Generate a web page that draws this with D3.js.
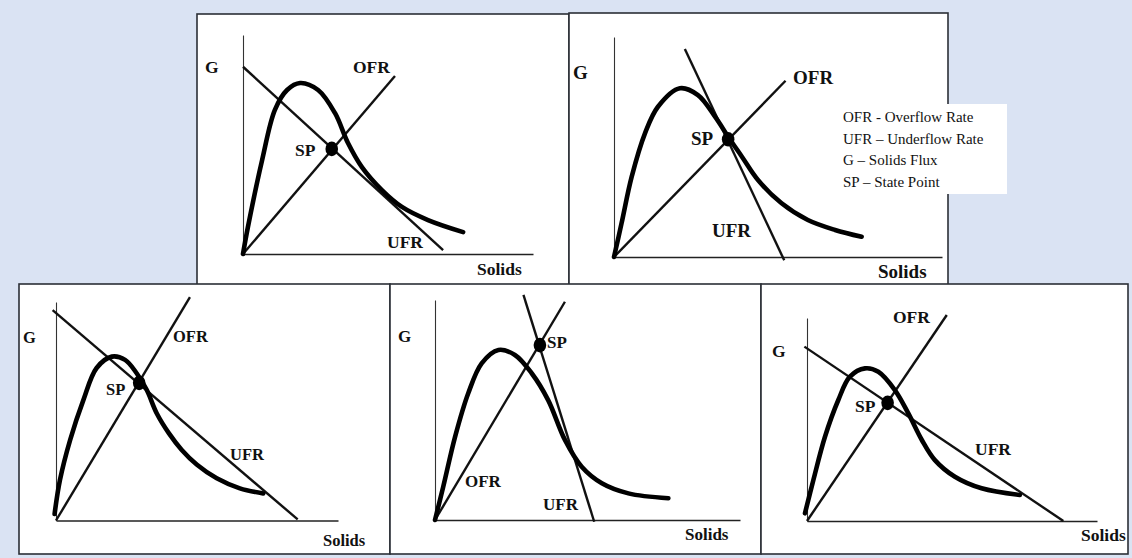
<!DOCTYPE html>
<html>
<head>
<meta charset="utf-8">
<script src="https://cdn.jsdelivr.net/npm/d3@7"></script>
<style>
  body { margin: 0; background: #dae3f3; }
  svg { display: block; }
</style>
</head>
<body>
<div id="chart"></div>
<script>
// solids flux curves: [solids, G], both as % of the axis length
var fluxA = [[0,0],[1.7,12.3],[6.6,42.9],[11,65.8],[15.2,74.9],[19.7,78.1],[25.9,74.9],[31.7,64.4],[36.2,50.7],[41,39.7],[47.9,29.2],[54.8,21.5],[63.8,15.5],[75.9,10]];
var fluxB = [[0,0],[2.3,15.3],[5.4,36.5],[9.5,56.4],[13.4,68.3],[20.1,76.7],[25.6,73.6],[30.8,63.8],[34.8,54.7],[39,45.6],[43.9,35],[51.1,24.4],[59.1,16.8],[67.4,12.3],[75.5,9.2]];
var fluxC = [[-0.5,3],[1.4,18.5],[5,36.8],[9.7,55.1],[14.4,69.8],[19.8,75],[24.5,73.5],[28.6,67.4],[32.2,59.7],[35.7,49.1],[40,40],[44.6,32.3],[50,25.5],[57,19.3],[65.2,14.7],[73.5,12.4]];
var fluxD = [[0,0],[2.7,15.1],[6.6,37.9],[10.9,57.6],[15.3,71.2],[20.8,77.3],[26.2,75],[31.7,66.7],[37.1,54.5],[42.6,36.4],[48.1,24.2],[54.7,16.7],[63.4,12.1],[76.5,9.9]];
var fluxE = [[-0.7,3.8],[2.2,20.2],[6.2,41.5],[10.8,59.6],[14.8,71.1],[20,75.2],[24.6,73.5],[30.3,64.5],[34.9,53.1],[39.6,39.9],[44.1,30],[51,21.8],[60.2,16.1],[73.4,12.8]];

// overflow rate lines (from origin), underflow rate lines, state points
var ofrA = [[0,0],[52.4,81.3]], ufrA = [[0,85.5],[69,1.8]], spA = [30.6,48];
var ofrB = [[0,0],[52.3,80.1]], ufrB = [[21.6,94.5],[51.9,-1.5]], spB = [34.8,53.5];
var ofrC = [[0,0],[47.5,102.2]], ufrC = [[-1.2,96.3],[85.7,0.5]], spC = [29.5,63];
var ofrD = [[0,0],[42.6,99.2]], ufrD = [[29,102.3],[52.2,-0.8]], spD = [34.4,79.5];
var ofrE = [[0,0],[48.2,101.5]], ufrE = [[-0.9,85.9],[88.4,0]], spE = [27.8,58.2];

var legendLines = ["OFR - Overflow Rate", "UFR \u2013 Underflow Rate", "G \u2013 Solids Flux", "SP \u2013 State Point"];

var panels = [
  {curve: fluxA, ofr: ofrA, ufr: ufrA, sp: spA, box: [197,14,569,292], origin: [243,254], xEnd: 533, yTop: 35, font: 17.5,
   labels: {G: [205,73], OFR: [353,73], SP: [295,156], UFR: [387,248], Solids: [477,275]}},
  {curve: fluxB, ofr: ofrB, ufr: ufrB, sp: spB, box: [569,13,948,292], origin: [614,257], xEnd: 942, yTop: 37, font: 19,
   labels: {G: [573,79], OFR: [793,84], SP: [691,145], UFR: [712,237], Solids: [878,278]}},
  {curve: fluxC, ofr: ofrC, ufr: ufrC, sp: spC, box: [19,284,390,554], origin: [56,520.5], xEnd: 338, yTop: 302, font: 16.5,
   labels: {G: [23,343], OFR: [173,342], SP: [106,395], UFR: [230,460], Solids: [323,546]}},
  {curve: fluxD, ofr: ofrD, ufr: ufrD, sp: spD, box: [390,284,761,554], origin: [435,520], xEnd: 740, yTop: 300, font: 17,
   labels: {G: [398,342], SP: [547,348], OFR: [465,487], UFR: [543,510], Solids: [685,540]}},
  {curve: fluxE, ofr: ofrE, ufr: ufrE, sp: spE, box: [761,284,1128,554], origin: [807,521], xEnd: 1097, yTop: 318, font: 17.5,
   labels: {G: [772,357], OFR: [893,323], SP: [855,412], UFR: [975,455], Solids: [1081,541]}}
];

var svg = d3.select("#chart").append("svg")
  .attr("width", 1132)
  .attr("height", 558);

svg.append("rect")
  .attr("width", 1132).attr("height", 558)
  .attr("fill", "#dae3f3");

panels.forEach(function(p, i) {
  var g = svg.append("g");

  g.append("rect")
    .attr("x", p.box[0]).attr("y", p.box[1])
    .attr("width", p.box[2] - p.box[0]).attr("height", p.box[3] - p.box[1])
    .attr("fill", "#fff")
    .attr("stroke", "#2b2f36")
    .attr("stroke-width", 1.6);

  var x = d3.scaleLinear().domain([0, 100]).range([p.origin[0], p.xEnd]);
  var y = d3.scaleLinear().domain([0, 100]).range([p.origin[1], p.yTop]);

  // bare axes, no ticks
  g.append("g")
    .attr("transform", "translate(0," + p.origin[1] + ")")
    .call(d3.axisBottom(x).ticks(0).tickSize(0))
    .call(function(a) { a.select(".domain").attr("stroke", "#222").attr("stroke-width", 1.4); });
  g.append("g")
    .attr("transform", "translate(" + p.origin[0] + ",0)")
    .call(d3.axisLeft(y).ticks(0).tickSize(0))
    .call(function(a) { a.select(".domain").attr("stroke", "#333").attr("stroke-width", 1.1); });

  var line = d3.line()
    .x(function(d) { return x(d[0]); })
    .y(function(d) { return y(d[1]); });

  g.append("path")
    .attr("d", line(p.ofr))
    .attr("fill", "none").attr("stroke", "#111").attr("stroke-width", 2.4);
  g.append("path")
    .attr("d", line(p.ufr))
    .attr("fill", "none").attr("stroke", "#111").attr("stroke-width", 2.4);

  g.append("path")
    .attr("d", line.curve(d3.curveCatmullRom.alpha(0.5))(p.curve))
    .attr("fill", "none").attr("stroke", "#000").attr("stroke-width", 4.6)
    .attr("stroke-linecap", "round");

  g.append("ellipse")
    .attr("cx", x(p.sp[0])).attr("cy", y(p.sp[1]))
    .attr("rx", 6.3).attr("ry", 7.3)
    .attr("fill", "#000");

  Object.keys(p.labels).forEach(function(k) {
    g.append("text")
      .attr("x", p.labels[k][0]).attr("y", p.labels[k][1])
      .attr("font-family", "Liberation Serif, Times New Roman, serif")
      .attr("font-weight", "bold")
      .attr("font-size", p.font)
      .attr("fill", "#111")
      .text(k);
  });

  if (i === 1) {
    var lg = g.append("g");
    lg.append("rect")
      .attr("x", 836).attr("y", 104)
      .attr("width", 171).attr("height", 90)
      .attr("fill", "#fff");
    lg.selectAll("text")
      .data(legendLines)
      .enter().append("text")
        .attr("x", 843)
        .attr("y", function(d, j) { return 122 + j * 21.5; })
        .attr("font-family", "Liberation Serif, Times New Roman, serif")
        .attr("font-size", 15)
        .attr("fill", "#111")
        .text(function(d) { return d; });
  }
});
</script>
</body>
</html>
